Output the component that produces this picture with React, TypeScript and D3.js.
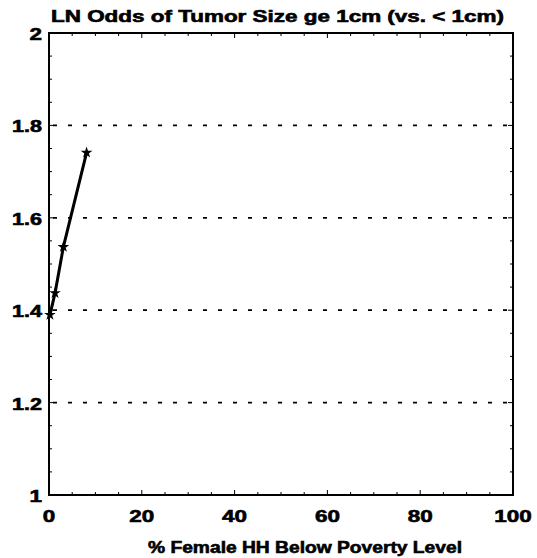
import React from "react";
import * as d3 from "d3";

const xValues = [0.2, 1.3, 3.1, 8.1];
const yValues = [1.39, 1.437, 1.537, 1.741];
const xTicks = [0, 20, 40, 60, 80, 100];
const yTicks = [1, 1.2, 1.4, 1.6, 1.8, 2];
const yTickLabels = ["1", "1.2", "1.4", "1.6", "1.8", "2"];
const gridValues = [1.2, 1.4, 1.6, 1.8];
const title = "LN Odds of Tumor Size ge 1cm (vs. < 1cm)";
const xLabel = "% Female HH Below Poverty Level";

function labelWidth(s: string) {
  let w = 0;
  for (const c of s) w += c === "." ? 5 : 12.5;
  return w;
}

export default function App() {
  const W = 537, H = 558;
  const left = 49, right = 513, top = 33, bottom = 495;
  const x = d3.scaleLinear().domain([0, 100]).range([left, right]);
  const y = d3.scaleLinear().domain([1, 2]).range([bottom, top]);
  const pts = xValues.map((v, i) => [v, yValues[i]] as [number, number]);
  const line = d3.line<[number, number]>().x(d => x(d[0])).y(d => y(d[1]));
  const star = d3.symbol().type(d3.symbolStar).size(42)();
  const minorX = d3.range(0, 101, 5);
  const minorY = d3.range(1, 2.001, 0.05);
  const font = "'Liberation Sans', Arial, sans-serif";
  const heavy = { stroke: "#000", strokeWidth: 0.6 };
  return (
    <svg width={W} height={H} style={{ position: "absolute", left: 0, top: 0, background: "#fff" }}>
      <rect x={0} y={0} width={W} height={H} fill="#fff" />
      {gridValues.map(g => (
        <line key={g} x1={left + 4} x2={right} y1={y(g)} y2={y(g)} stroke="#000" strokeWidth={1.8} strokeDasharray="4,11" />
      ))}
      {minorX.map(v => (
        <g key={"mx" + v}>
          <line x1={x(v)} x2={x(v)} y1={bottom} y2={bottom - (v % 20 === 0 ? 5 : 3)} stroke="#000" strokeWidth={1} />
          <line x1={x(v)} x2={x(v)} y1={top} y2={top + (v % 20 === 0 ? 5 : 3)} stroke="#000" strokeWidth={1} />
        </g>
      ))}
      {minorY.map((v, i) => (
        <g key={"my" + i}>
          <line x1={left} x2={left + (i % 4 === 0 ? 5 : 3)} y1={y(v)} y2={y(v)} stroke="#000" strokeWidth={1} />
          <line x1={right} x2={right - (i % 4 === 0 ? 5 : 3)} y1={y(v)} y2={y(v)} stroke="#000" strokeWidth={1} />
        </g>
      ))}
      <rect x={left} y={top} width={right - left} height={bottom - top} fill="none" stroke="#000" strokeWidth={2} />
      <path d={line(pts) || ""} fill="none" stroke="#000" strokeWidth={3} />
      {pts.map((p, i) => (
        <path key={i} d={star || ""} transform={`translate(${x(p[0])},${y(p[1])})`} fill="#000" />
      ))}
      {yTicks.map((t, i) => (
        <text key={"yt" + t} x={42} y={y(t) + 7} textAnchor="end" fontFamily={font} fontWeight="bold" fontSize={17}
          textLength={labelWidth(yTickLabels[i])} lengthAdjust="spacingAndGlyphs" {...heavy}>
          {yTickLabels[i]}
        </text>
      ))}
      {xTicks.map(t => (
        <text key={"xt" + t} x={x(t)} y={522} textAnchor="middle" fontFamily={font} fontWeight="bold" fontSize={17}
          textLength={labelWidth(String(t))} lengthAdjust="spacingAndGlyphs" {...heavy}>
          {t}
        </text>
      ))}
      <text x={51} y={22} fontFamily={font} fontWeight="bold" fontSize={16} textLength={453} lengthAdjust="spacingAndGlyphs" {...heavy}>
        {title}
      </text>
      <text x={148} y={553} fontFamily={font} fontWeight="bold" fontSize={16} textLength={314} lengthAdjust="spacingAndGlyphs" {...heavy}>
        {xLabel}
      </text>
    </svg>
  );
}
